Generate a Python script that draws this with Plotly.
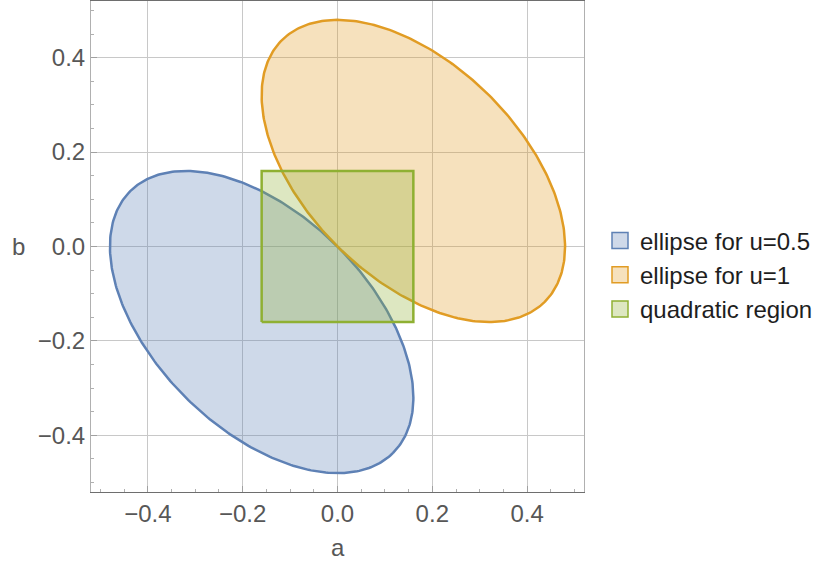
import numpy as np
import plotly.graph_objects as go

# ---- data ----
series_names = ["ellipse for u=0.5", "ellipse for u=1", "quadratic region"]
ellipse_center_a = [-0.16, 0.16]
ellipse_center_b = [-0.16, 0.16]
ellipse_semi_major = [0.392, 0.392]
ellipse_semi_minor = [0.2263, 0.2263]
ellipse_angle_deg = [-45.0, -45.0]
square_a = [-0.16, 0.16, 0.16, -0.16, -0.16]
square_b = [-0.16, -0.16, 0.16, 0.16, -0.16]
tick_vals = [-0.4, -0.2, 0.0, 0.2, 0.4]
tick_text = ["\u22120.4", "\u22120.2", "0.0", "0.2", "0.4"]
axis_range = [-0.52, 0.52]

line_colors = ["#5E81B5", "#E19C24", "#8FB032"]
fill_colors = ["rgba(94,129,181,0.3)", "rgba(225,156,36,0.3)", "rgba(143,176,50,0.3)"]
swatch_colors = ["rgb(207,217,233)", "rgb(246,225,189)", "rgb(221,231,193)"]

FONT = "Liberation Sans, Arial, sans-serif"
FS = 24

fig = go.Figure()

t = np.linspace(0, 2 * np.pi, 361)
for i in range(2):
    th = np.deg2rad(ellipse_angle_deg[i])
    A, B = ellipse_semi_major[i], ellipse_semi_minor[i]
    xs = ellipse_center_a[i] + A * np.cos(t) * np.cos(th) - B * np.sin(t) * np.sin(th)
    ys = ellipse_center_b[i] + A * np.cos(t) * np.sin(th) + B * np.sin(t) * np.cos(th)
    fig.add_trace(go.Scatter(x=xs, y=ys, mode="lines", fill="toself",
                             fillcolor=fill_colors[i],
                             line=dict(color=line_colors[i], width=2.5),
                             showlegend=False, hoverinfo="skip"))

fig.add_trace(go.Scatter(x=square_a, y=square_b, mode="lines", fill="toself",
                         fillcolor=fill_colors[2],
                         line=dict(color=line_colors[2], width=2.5),
                         showlegend=False, hoverinfo="skip"))

# legend entries
for i in range(3):
    fig.add_trace(go.Scatter(x=[None], y=[None], mode="markers", name=series_names[i],
                             marker=dict(symbol="square", size=16, color=swatch_colors[i],
                                         line=dict(color=line_colors[i], width=1.5))))

axis_common = dict(
    range=axis_range, tickvals=tick_vals, ticktext=tick_text,
    showgrid=True, gridcolor="#c8c8c8", gridwidth=1.3,
    zeroline=False, showline=True, mirror=True, automargin=False,
    ticks="inside", ticklen=6, tickcolor="#a0a0a0",
    tickfont=dict(family=FONT, size=FS, color="#575757"),
    minor=dict(dtick=0.05, tick0=0, ticks="inside", ticklen=3, tickcolor="#b0b0b0", showgrid=False),
)

fig.update_layout(
    width=820, height=565,
    margin=dict(l=91, r=236, t=1, b=73),
    paper_bgcolor="white", plot_bgcolor="white",
    xaxis=dict(**axis_common, linecolor="#6e6e6e", linewidth=1),
    yaxis=dict(**axis_common, linecolor="#b0b0b0", linewidth=1),
    legend=dict(xref="container", yref="container", x=600 / 820, y=1 - 275 / 565,
                xanchor="left", yanchor="middle",
                font=dict(family=FONT, size=FS, color="#1e1e1e"),
                bgcolor="rgba(0,0,0,0)"),
    annotations=[
        dict(text="a", x=0.0, xref="x", y=-(547 - 492) / 491, yref="paper",
             showarrow=False, xanchor="center", yanchor="middle",
             font=dict(family=FONT, size=FS, color="#575757")),
        dict(text="b", x=(18 - 91) / 493, xref="paper", y=0.0, yref="y",
             showarrow=False, xanchor="center", yanchor="middle",
             font=dict(family=FONT, size=FS, color="#575757")),
    ],
)

fig.write_html("out.html", config={"displayModeBar": False},
               post_script="document.body.style.margin='0';document.body.style.overflow='hidden';")
